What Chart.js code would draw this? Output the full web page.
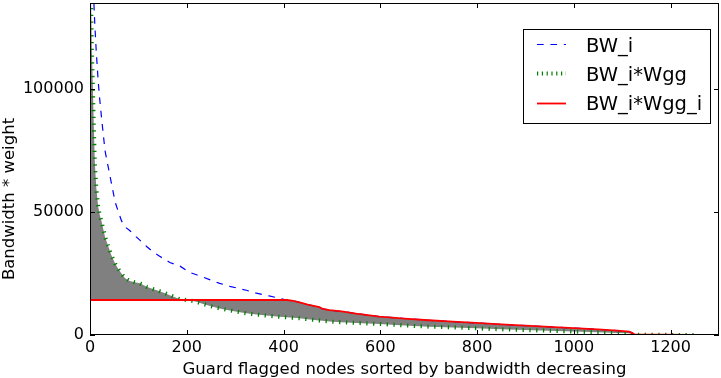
<!DOCTYPE html>
<html><head><meta charset="utf-8">
<script src="https://cdn.jsdelivr.net/npm/chart.js@4.4.1/dist/chart.umd.min.js"></script>
<style>html,body{margin:0;padding:0;background:#fff;overflow:hidden}#wrap{position:relative;width:721px;height:378px}</style>
</head><body><div id="wrap"><canvas id="c" width="721" height="378"></canvas></div>
<script>
// ---- data ----
const nodeIndex = [0,2,4,6,8,10,13,17,20,24,31,37,44,52,58,65,72,82,95,103,117,130,144,165,186,205,220,234,250,268,289,310,323,344,370,392,407,420,433,450,474,481,495,520,550,598,650,700,750,798,850,900,949,1000,1050,1090,1114,1120,1126,1180,1248];
const bwI = [260000,200000,165000,148000,135000,126000,115000,103000,96000,88000,75000,69000,62000,54000,50500,46500,44000,42500,40000,38600,36000,33800,32000,29500,28000,25500,24500,23500,22300,21000,19800,18800,18200,17000,15900,14900,14230,13900,13300,12400,11300,10600,10100,9600,8700,7500,6700,6000,5400,4900,4300,3800,3300,2800,2300,1800,1350,900,150,100,50];
const bwIWgg = [180000,140000,115000,100000,84000,70000,60000,52000,49000,46000,40000,36500,32500,29000,27000,25000,23200,22000,21300,21000,19600,18700,17800,16200,14500,14100,13500,12600,11700,10800,10000,9300,8800,8300,7800,7400,7200,7000,6800,6400,5900,5800,5500,5200,4900,4500,3900,3400,3100,2700,2300,2000,1750,1400,1100,850,700,450,80,60,30];
const bwIWggI = [14230,14230,14230,14230,14230,14230,14230,14230,14230,14230,14230,14230,14230,14230,14230,14230,14230,14230,14230,14230,14230,14230,14230,14230,14230,14230,14230,14230,14230,14230,14230,14230,14230,14230,14230,14230,14230,13900,13300,12400,11300,10600,10100,9600,8700,7500,6700,6000,5400,4900,4300,3800,3300,2800,2300,1800,1350,900,150,100,50];
const seriesNames = ['BW_i','BW_i*Wgg','BW_i*Wgg_i'];
const xTickValues = [0,200,400,600,800,1000,1200];
const yTickValues = [0,50000,100000];
const xTitle = 'Guard flagged nodes sorted by bandwidth decreasing';
const yTitle = 'Bandwidth * weight';

const FONT = "'DejaVu Sans', 'Liberation Sans', sans-serif";
const pts = arr => nodeIndex.map((x, i) => ({x, y: arr[i]}));

const decor = {
  id: 'decor',
  afterDraw(chart) {
    const ctx = chart.ctx, a = chart.chartArea;
    const xs = chart.scales.x, ys = chart.scales.y;
    ctx.save();
    // inner ticks
    ctx.strokeStyle = '#000'; ctx.lineWidth = 1;
    ctx.beginPath();
    xTickValues.forEach(v => {
      const px = Math.round(xs.getPixelForValue(v)) + 0.5;
      ctx.moveTo(px, a.bottom); ctx.lineTo(px, a.bottom - 5);
      ctx.moveTo(px, a.top); ctx.lineTo(px, a.top + 5);
    });
    yTickValues.forEach(v => {
      const py = Math.round(ys.getPixelForValue(v)) + 0.5;
      ctx.moveTo(a.left, py); ctx.lineTo(a.left + 5, py);
      ctx.moveTo(a.right, py); ctx.lineTo(a.right - 5, py);
    });
    ctx.stroke();
    // frame
    ctx.strokeRect(Math.round(a.left) + 0.5, Math.round(a.top) + 0.5, Math.round(a.right - a.left) - 1, Math.round(a.bottom - a.top) - 1);
    // titles
    ctx.fillStyle = '#000';
    ctx.font = '16.5px ' + FONT;
    ctx.textAlign = 'center'; ctx.textBaseline = 'alphabetic';
    ctx.fillText(xTitle, (a.left + a.right) / 2, 374);
    ctx.save();
    ctx.translate(14, 199); ctx.rotate(-Math.PI / 2);
    ctx.fillText(yTitle, 0, 0);
    ctx.restore();
    // legend
    const lx = 523.5, ly = 29.5, lw = 187, lh = 94;
    ctx.fillStyle = '#fff'; ctx.fillRect(lx, ly, lw, lh);
    ctx.strokeStyle = '#000'; ctx.lineWidth = 1; ctx.strokeRect(lx, ly, lw, lh);
    const ds = chart.data.datasets;
    const rowY = [44.5, 73.5, 103.5];
    const baseY = [51.5, 81, 110.3];
    ds.forEach((d, i) => {
      ctx.save();
      ctx.strokeStyle = d.borderColor; ctx.lineWidth = d.borderWidth;
      ctx.setLineDash(i === 1 ? [1.2, 3.6] : (d.borderDash || []));
      ctx.lineCap = 'butt';
      ctx.beginPath(); ctx.moveTo(537, rowY[i]); ctx.lineTo(566, rowY[i]); ctx.stroke();
      ctx.restore();
      ctx.fillStyle = '#000'; ctx.font = '19.5px ' + FONT; ctx.textAlign = 'left';
      ctx.fillText(seriesNames[i], 586, baseY[i]);
    });
    ctx.restore();
  }
};

new Chart(document.getElementById('c'), {
  type: 'line',
  data: {
    datasets: [
      {label: seriesNames[0], data: pts(bwI), borderColor: '#0000ff', borderWidth: 1.2, borderDash: [6.7, 6.7], pointRadius: 0, tension: 0, fill: false, order: 1},
      {label: seriesNames[1], data: pts(bwIWgg), borderColor: '#008000', borderWidth: 4, borderDash: [1.3, 5.5], pointRadius: 0, tension: 0,
        fill: {target: 2, above: '#808080', below: '#808080'}, backgroundColor: '#808080', order: 2},
      {label: seriesNames[2], data: pts(bwIWggI), borderColor: '#ff0000', borderWidth: 1.8, pointRadius: 0, tension: 0, fill: false, order: 0}
    ]
  },
  options: {
    responsive: false, animation: false, devicePixelRatio: 1,
    layout: {padding: {top: 3, right: 2, left: 0, bottom: 0}},
    plugins: {legend: {display: false}, tooltip: {enabled: false}},
    scales: {
      x: {type: 'linear', min: 0, max: 1300,
        ticks: {color: '#000', font: {family: FONT, size: 16}, padding: 3, maxRotation: 0, autoSkip: false,
          callback: v => String(v)},
        afterBuildTicks: s => { s.ticks = xTickValues.map(v => ({value: v})); },
        grid: {display: false, drawTicks: false}, border: {display: false},
        afterFit: s => { s.height = 43; s.paddingLeft = 0; s.paddingRight = 0; }},
      y: {type: 'linear', min: 0, max: 135000,
        ticks: {color: '#000', font: {family: FONT, size: 16}, padding: 6, autoSkip: false,
          callback: v => String(v)},
        afterBuildTicks: s => { s.ticks = yTickValues.map(v => ({value: v})); },
        grid: {display: false, drawTicks: false}, border: {display: false},
        afterFit: s => { s.width = 90; s.paddingTop = 0; s.paddingBottom = 0; }}
    }
  },
  plugins: [decor]
});
</script></body></html>
